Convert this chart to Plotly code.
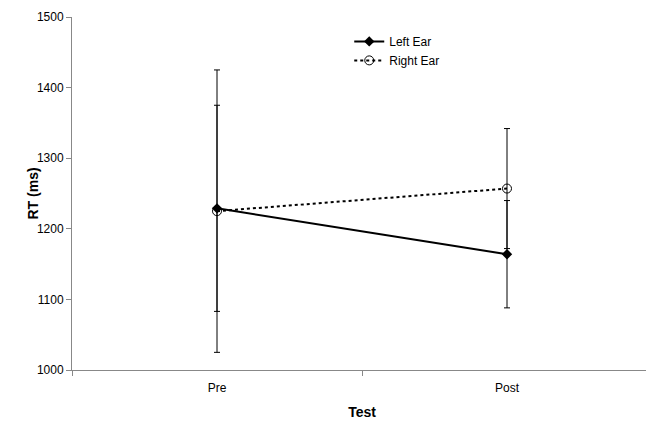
import plotly.graph_objects as go

categories = ["Pre", "Post"]
left_ear = [1229, 1164]
left_err = [146, 76]
right_ear = [1225, 1257]
right_err = [200, 85]

fig = go.Figure()
fig.add_trace(go.Scatter(
    x=categories, y=left_ear, name="Left Ear", mode="lines+markers",
    line=dict(color="black", width=2),
    marker=dict(symbol="diamond", size=8, color="black"),
    error_y=dict(type="data", array=left_err, visible=True, color="black", thickness=1, width=3),
))
fig.add_trace(go.Scatter(
    x=categories, y=right_ear, name="Right Ear", mode="lines+markers",
    line=dict(color="black", width=2, dash="dot"),
    marker=dict(symbol="circle-open", size=9, color="black", line=dict(width=1)),
    error_y=dict(type="data", array=right_err, visible=True, color="black", thickness=1, width=3),
))

fig.update_layout(
    width=646, height=415,
    margin=dict(l=64, r=2, t=7, b=53),
    paper_bgcolor="white", plot_bgcolor="white",
    font=dict(family="Liberation Sans, Arial, sans-serif", size=12, color="black"),
    showlegend=True,
    legend=dict(x=0.478, y=0.972, xanchor="left", yanchor="top",
                bgcolor="rgba(0,0,0,0)", font=dict(size=12), tracegroupgap=0),
    xaxis=dict(
        type="category", range=[-0.5, 1.5], tickson="boundaries",
        ticks="outside", ticklen=5, tickcolor="#888",
        showline=True, linecolor="#888", linewidth=1,
        showgrid=False, zeroline=False, ticklabelstandoff=7,
        title=dict(text="<b>Test</b>", font=dict(size=14), standoff=12),
    ),
    yaxis=dict(
        range=[1000, 1500], dtick=100, ticks="outside", ticklen=5, tickcolor="#888",
        showline=True, linecolor="#888", linewidth=1,
        showgrid=False, zeroline=False,
    ),
    annotations=[dict(
        text="<b>RT (ms)</b>", xref="paper", yref="paper", x=0, y=0.5,
        xanchor="center", yanchor="middle", xshift=-40, textangle=-90,
        showarrow=False, font=dict(size=14),
    )],
)

fig.write_html("out.html")
